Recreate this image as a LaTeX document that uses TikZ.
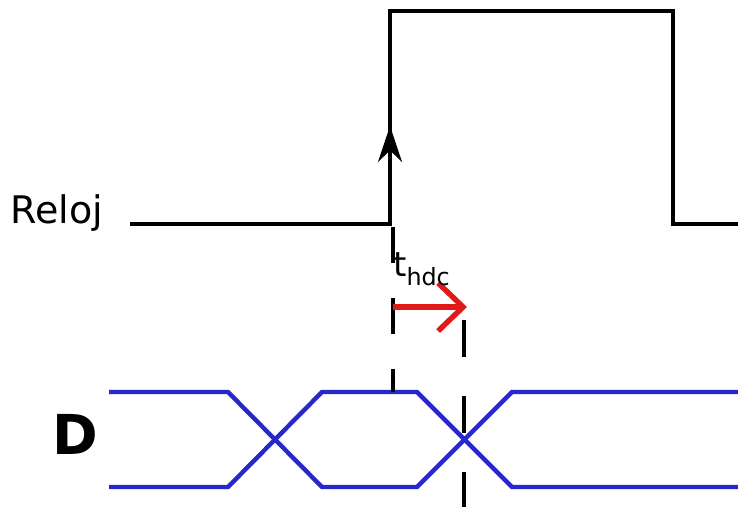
\documentclass[tikz,border=0pt]{standalone}
\usepackage{fontspec}
\setmainfont{DejaVu Sans}
\usetikzlibrary{arrows.meta, positioning}
\definecolor{signalblue}{RGB}{40,40,200}
\definecolor{holdred}{RGB}{225,25,25}

\begin{document}
\begin{tikzpicture}[
  x=1pt, y=-1pt,
  clock/.style={line width=4.4pt, black, line join=miter},
  data/.style={line width=4.4pt, signalblue},
  guide/.style={line width=4.2pt, black},
  hold/.style={line width=5.4pt, holdred},
  lbl/.style={inner sep=0pt, font=\fontsize{38}{44}\selectfont}
]
\useasboundingbox (0,0) rectangle (738,506);

% Clock signal
\coordinate (c0) at (130,224);
\coordinate (c1) at (390,224);
\coordinate (c2) at (390,11);
\coordinate (c3) at (673,11);
\coordinate (c4) at (673,224);
\coordinate (c5) at (740,224);
\draw[clock] (c0) -- (c1) -- (c2) -- (c3) -- (c4) -- (c5);
\coordinate (edge) at (390,126);
\draw[clock, -{Stealth[length=36pt, width=24pt]}] (c1) -- (edge);
\node[lbl, anchor=east] (reloj) at (103,213) {Reloj};

% Data signal
\coordinate (dtl) at (109,392);  \coordinate (dbl) at (109,487);
\coordinate (a1) at (228,392);   \coordinate (b1) at (228,487);
\coordinate (a2) at (322,392);   \coordinate (b2) at (322,487);
\coordinate (a3) at (417,392);   \coordinate (b3) at (417,487);
\coordinate (a4) at (512,392);   \coordinate (b4) at (512,487);
\coordinate (dtr) at (740,392);  \coordinate (dbr) at (740,487);
\draw[data] (dtl) -- (a1) -- (b2) -- (b3) -- (a4) -- (dtr);
\draw[data] (dbl) -- (b1) -- (a2) -- (a3) -- (b4) -- (dbr);
\node[lbl, font=\fontsize{55}{60}\selectfont\bfseries] (dlabel) at (75,434) {D};

% Hold time markers
\coordinate (g1) at (393,227);   \coordinate (g1e) at (393,392);
\coordinate (g2) at (464,320);   \coordinate (g2e) at (464,508);
\draw[guide, dash pattern=on 36pt off 35pt] (g1) -- (g1e);
\draw[guide, dash pattern=on 37pt off 39pt] (g2) -- (g2e);
\coordinate (h0) at (393,307);
\coordinate (h1) at (467,307);
\draw[hold, -{Straight Barb[length=25pt, width=48pt, line join=miter]}] (h0) -- (h1);
\node[lbl, font=\fontsize{34}{38}\selectfont, anchor=base west] (thdc) at (393,276) {t\textsubscript{hdc}};

\end{tikzpicture}
\end{document}
